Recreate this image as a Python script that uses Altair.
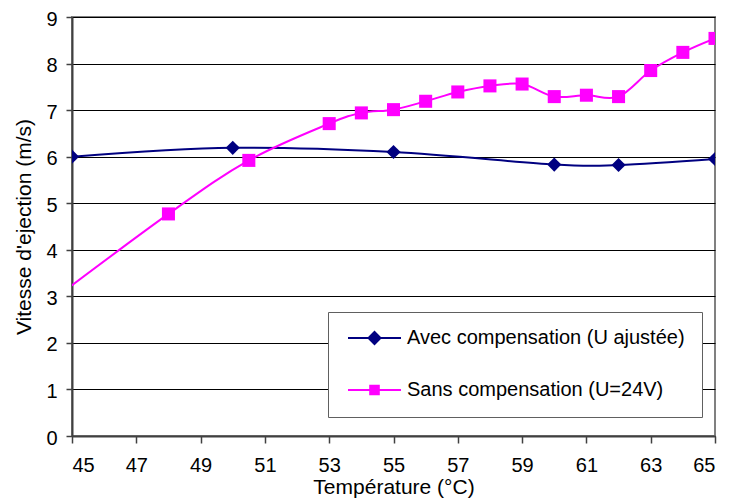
import altair as alt
import pandas as pd

# ---- data ----
avec_x = [45, 50, 55, 60, 62, 65]
avec_y = [6.00, 6.19, 6.10, 5.83, 5.82, 5.95]

sans_x = [44, 48, 50.5, 53, 54, 55, 56, 57, 58, 59, 60, 61, 62, 63, 64, 65]
sans_y = [2.72, 4.77, 5.92, 6.71, 6.94, 7.01, 7.19, 7.39, 7.52, 7.56, 7.29, 7.32, 7.29, 7.85, 8.24, 8.54]

series_names = ["Avec compensation (U ajustée)", "Sans compensation (U=24V)"]
series_colors = ["#000080", "#FF00FF"]
x_ticks = [45, 47, 49, 51, 53, 55, 57, 59, 61, 63, 65]
y_ticks = [0, 1, 2, 3, 4, 5, 6, 7, 8, 9]

# legend symbols: a line segment with the marker on it
legend_paths = [
    "M-1,-0.04H1V0.04H-1Z M0,-0.28L0.28,0L0,0.28L-0.28,0Z",
    "M-1,-0.04H1V0.04H-1Z M-0.2,-0.2H0.2V0.2H-0.2Z",
]

df = pd.concat([
    pd.DataFrame({"T": avec_x, "V": avec_y, "serie": series_names[0]}),
    pd.DataFrame({"T": sans_x, "V": sans_y, "serie": series_names[1]}),
], ignore_index=True)

FONT = "Liberation Sans"

x_enc = alt.X("T:Q", scale=alt.Scale(domain=[45, 65], nice=False, zero=False),
              axis=alt.Axis(values=x_ticks, title="Température (°C)", grid=False,
                            tickSize=7, labelPadding=12, titlePadding=1, format="d"))
y_enc = alt.Y("V:Q", scale=alt.Scale(domain=[0, 9], nice=False),
              axis=alt.Axis(values=y_ticks, title="Vitesse  d'ejection (m/s)", grid=True,
                            tickSize=6, labelPadding=9, titlePadding=11, format="d",
                            labelBaseline="alphabetic", labelOffset=8))
color_scale = alt.Scale(domain=series_names, range=series_colors)

base = alt.Chart(df)

def series_layer(i, shape, size):
    sub = base.transform_filter(alt.datum.serie == series_names[i])
    line = sub.mark_line(interpolate="cardinal", strokeWidth=2, clip=True,
                         color=series_colors[i]).encode(x=x_enc, y=y_enc)
    pts = sub.mark_point(shape=shape, filled=True, size=size, opacity=1,
                         color=series_colors[i], clip=True).encode(x="T:Q", y="V:Q")
    return line, pts

l_avec, p_avec = series_layer(0, "diamond", 200)
l_sans, p_sans = series_layer(1, "square", 170)

# legend-only layer: no rows drawn, entries come from the explicit scale domains
legend_layer = base.transform_filter(alt.datum.T < 0).mark_point(filled=True, opacity=1).encode(
    x="T:Q", y="V:Q",
    color=alt.Color("serie:N", scale=color_scale, title=None,
                    legend=alt.Legend(orient="none", legendX=256, legendY=295,
                                      symbolSize=2809, symbolStrokeWidth=0, symbolOffset=3,
                                      clipHeight=18,
                                      labelFont=FONT, labelFontSize=20, labelColor="#000000",
                                      labelOffset=6, rowPadding=32, padding=17,
                                      strokeColor="#606060", fillColor="#FFFFFF",
                                      labelLimit=400)),
    shape=alt.Shape("serie:N", scale=alt.Scale(domain=series_names, range=legend_paths),
                    title=None),
)

chart = alt.layer(l_avec, l_sans, p_avec, p_sans, legend_layer).properties(
    width=643, height=419,
    autosize=alt.AutoSizeParams(type="none"),
    padding={"left": 64, "top": 9, "right": 8, "bottom": 63},
).configure(
    background="#FFFFFF",
).configure_view(
    stroke="#808080", strokeWidth=2,
).configure_axis(
    labelFont=FONT, labelFontSize=20, labelColor="#000000",
    titleFont=FONT, titleFontSize=21, titleColor="#000000", titleFontWeight="normal",
    domainColor="#404040", domainWidth=2, tickColor="#404040", tickWidth=1.5,
    gridColor="#000000", gridWidth=1, gridOpacity=1,
)

chart.save("out.html", embed_options={"renderer": "svg", "actions": False})
